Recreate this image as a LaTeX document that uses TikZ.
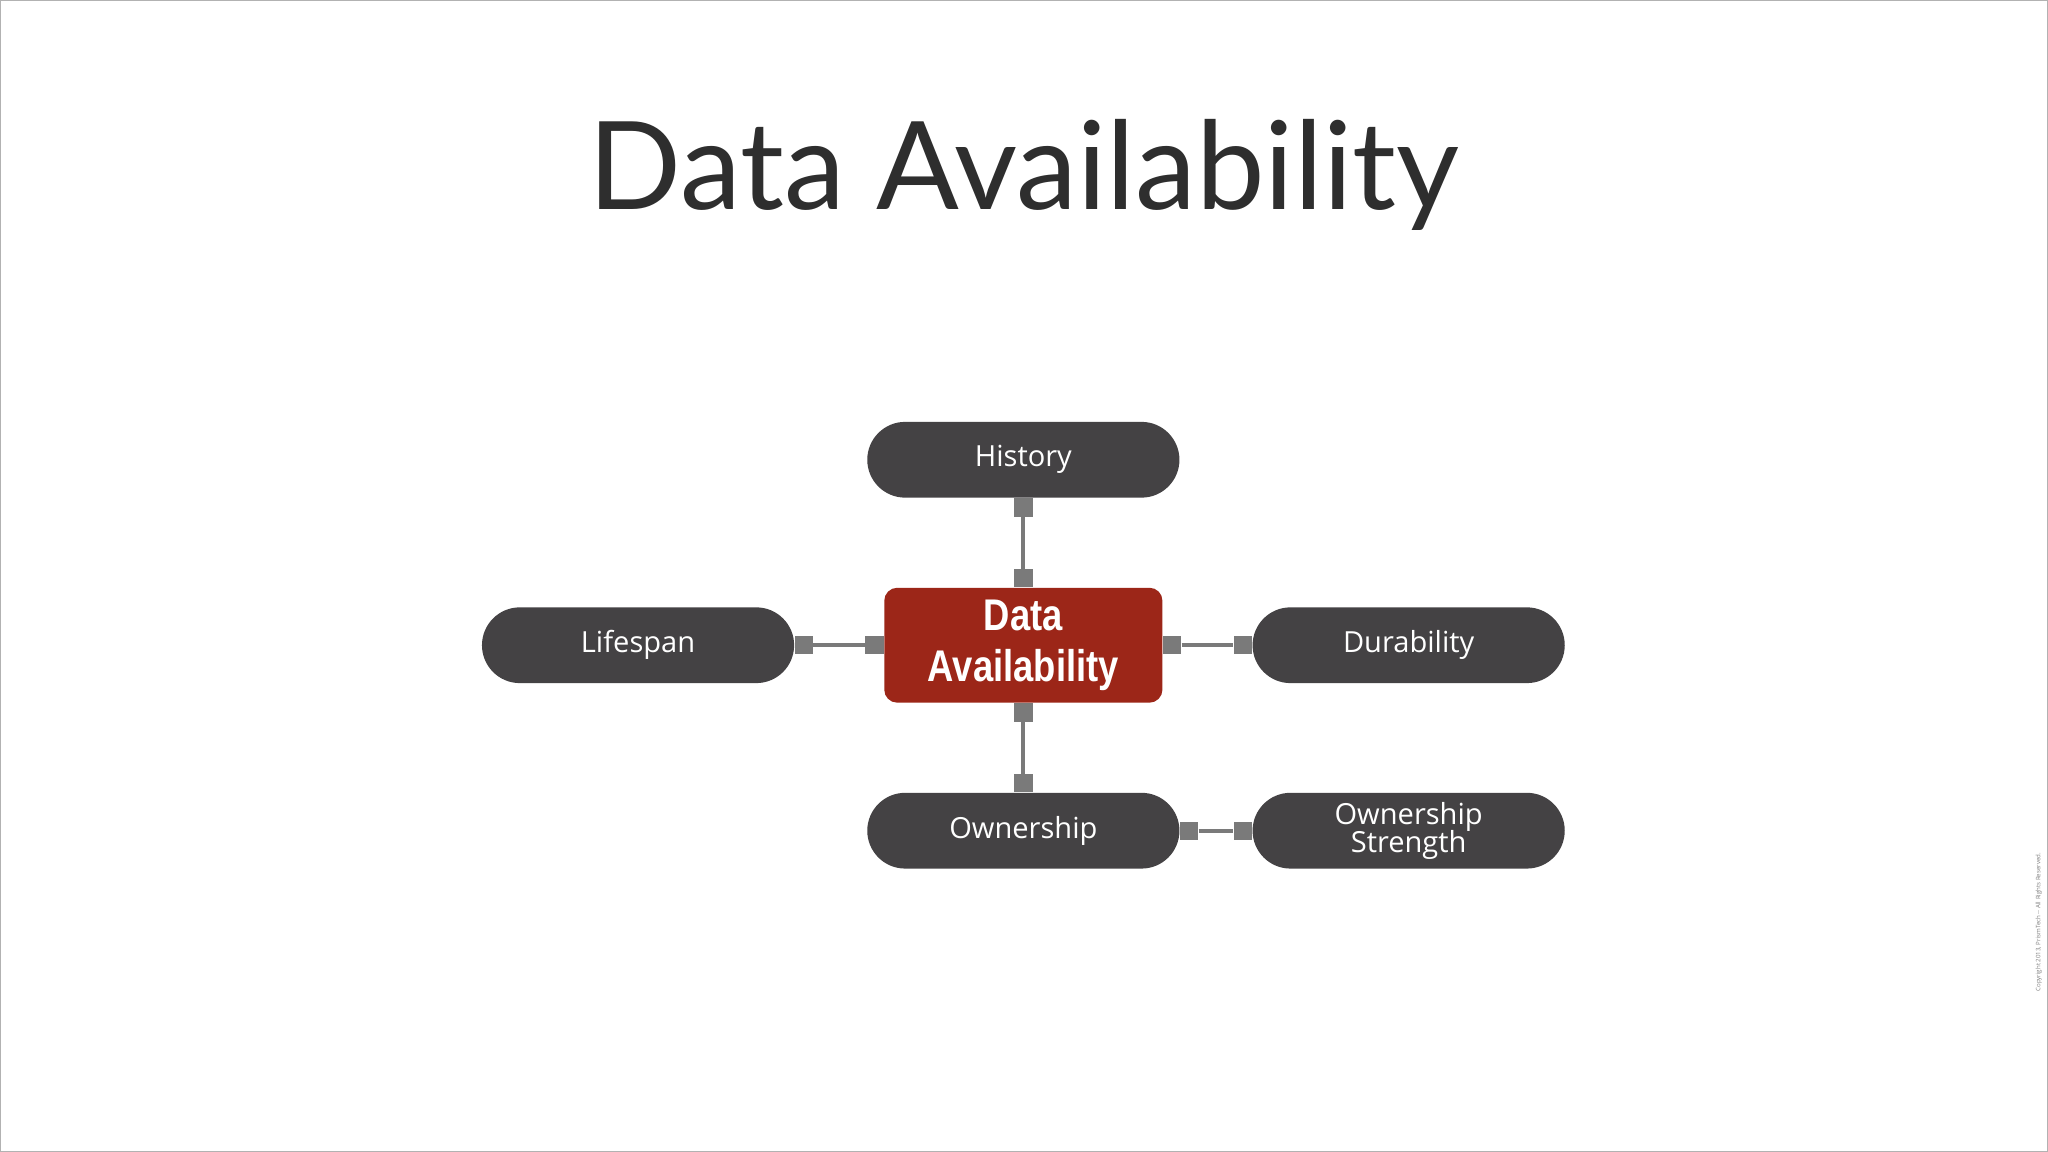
\documentclass[tikz,border=0pt]{standalone}
\usepackage{fontspec}
\setmainfont{Lato}
\newfontfamily\cnd[FakeStretch=0.82]{Liberation Sans}
\newfontfamily\opn{Open Sans}
\definecolor{nodegray}{HTML}{444244}
\definecolor{redbox}{HTML}{9C2618}
\definecolor{conn}{HTML}{7A7A7A}
\definecolor{titlec}{HTML}{2E2E2E}
\begin{document}
\begin{tikzpicture}[x=0.3mm,y=-0.3mm,
  pill/.style={fill=nodegray,rounded corners=29*0.3mm,minimum width=239*0.3mm,minimum height=58*0.3mm,inner sep=0,text=white,font=\opn\fontsize{19pt}{21pt}\selectfont,align=center},
  sq/.style={fill=conn,minimum size=14*0.3mm,inner sep=0},
  cl/.style={draw=conn,line width=3*0.3mm}]
\useasboundingbox (0,0) rectangle (1568,882);
\fill[white] (0,0) rectangle (1568,882);
\draw[gray!60,line width=0.3mm] (0.5,0.5) rectangle (1567.5,881.5);
\node[text=titlec,font=\fontsize{80pt}{90pt}\selectfont] (title) at (784,134) {Data Availability};
\node[pill] (hist) at (783.5,352) {History};
\node[pill] (life) at (488.5,494) {Lifespan};
\node[pill] (dur) at (1078.5,494) {Durability};
\node[pill] (own) at (783.5,636) {Ownership};
\node[pill] (ostr) at (1078.5,636) {Ownership\\[-3pt]Strength};
\node[fill=redbox,rounded corners=10*0.3mm,minimum width=213*0.3mm,minimum height=88*0.3mm,inner sep=0,text=white,align=center,font=\cnd\bfseries\fontsize{29pt}{33pt}\selectfont] (da) at (783.5,494) {Data\\Availability};
% connectors
\node[sq,anchor=north] (s1) at (hist.south) {};
\node[sq,anchor=south] (s2) at (da.north) {};
\draw[cl] (s1) -- (s2);
\node[sq,anchor=north] (s3) at (da.south) {};
\node[sq,anchor=south] (s4) at (own.north) {};
\draw[cl] (s3) -- (s4);
\node[sq,anchor=west] (s5) at (life.east) {};
\node[sq,anchor=east] (s6) at (da.west) {};
\draw[cl] (s5) -- (s6);
\node[sq,anchor=west] (s7) at (da.east) {};
\node[sq,anchor=east] (s8) at (dur.west) {};
\draw[cl] (s7) -- (s8);
\node[sq,anchor=west] (s9) at (own.east) {};
\node[sq,anchor=east] (s10) at (ostr.west) {};
\draw[cl] (s9) -- (s10);
\node[rotate=90,text=gray,font=\opn\fontsize{4pt}{5pt}\selectfont] (copy) at (1561,706) {Copyright 2013, PrismTech -- All Rights Reserved.};
\end{tikzpicture}
\end{document}
